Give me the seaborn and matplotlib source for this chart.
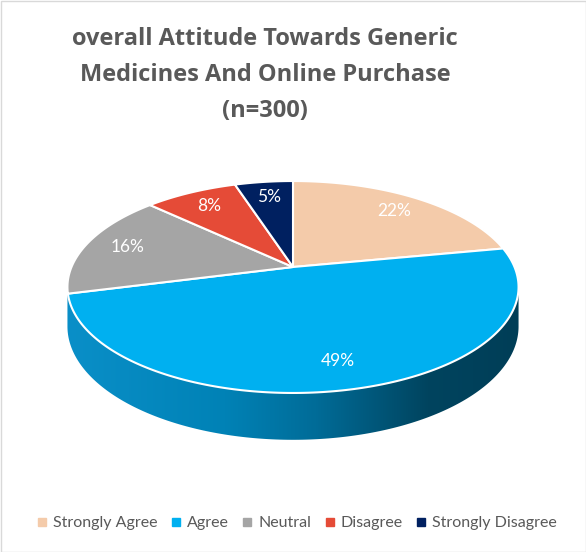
import numpy as np
import matplotlib.pyplot as plt
import matplotlib.colors as mcolors
from matplotlib.patches import Polygon, Rectangle
from matplotlib.lines import Line2D
import seaborn as sns

# Datos
categories = ["Strongly Agree", "Agree", "Neutral", "Disagree", "Strongly Disagree"]
shares = [22, 49, 16, 8, 5]
slice_colors = ["#F4CBAA", "#00B0F0", "#A5A5A5", "#E54B37", "#002060"]
title_lines = ["overall Attitude Towards Generic", "Medicines And Online Purchase", "(n=300)"]

sns.set_theme(style="white")
plt.rcParams['font.family'] = ['Lato', 'DejaVu Sans']
TEXT_GREY = "#595959"

W, H = 586, 552
fig = plt.figure(figsize=(W / 100, H / 100), dpi=100)
fig.patch.set_facecolor("white")
ax = fig.add_axes([0, 0, 1, 1])
ax.set_xlim(0, W)
ax.set_ylim(H, 0)
ax.axis("off")

# borde del área del gráfico
ax.add_patch(Rectangle((0.5, 0.5), W - 1, H - 1, fill=False, edgecolor="#D9D9D9", lw=1))

# geometría del pastel con la librería (ángulos y posiciones de etiquetas)
helper = plt.figure().add_subplot()
wedges, _, autotexts = helper.pie(shares, startangle=90, counterclock=False,
                                  autopct="%1.0f%%", pctdistance=0.8)

# proyección en perspectiva tipo Excel 3D
cx, cy = 293, 267
A, B, K, D = 102.2, 221.5, 0.1887, 38


def project(x, y, z=0.0):
    f = 1 + K * y
    return cx + B * x / f, cy - (A * y + D * z) / f


def arc(t1, t2, z=0.0, n=200):
    t = np.radians(np.linspace(t1, t2, n))
    return np.column_stack(project(np.cos(t), np.sin(t), z))


# lateral (cara frontal) con degradado
t_left = 180 + np.degrees(np.arcsin(K))
t_right = 360 - np.degrees(np.arcsin(K))
side_pts = np.vstack([arc(t_left, t_right, 0), arc(t_right, t_left, -1)])
side = Polygon(side_pts, closed=True, facecolor="none", edgecolor="none")
ax.add_patch(side)
side_cmap = mcolors.LinearSegmentedColormap.from_list(
    "side", [(0, "#0A8FC8"), (0.35, "#0082B6"), (0.55, "#006C98"),
             (0.8, "#00445F"), (1, "#003E57")])
grad = np.linspace(0, 1, 256).reshape(1, -1)
x0, x1 = side_pts[:, 0].min(), side_pts[:, 0].max()
y0, y1 = side_pts[:, 1].min(), side_pts[:, 1].max()
img = ax.imshow(grad, cmap=side_cmap, extent=[x0, x1, y1, y0], aspect="auto", zorder=1)
img.set_clip_path(side)
ax.set_xlim(0, W)
ax.set_ylim(H, 0)

# cara superior
for w, color in zip(wedges, slice_colors):
    pts = np.vstack([[project(0, 0)], arc(w.theta1, w.theta2)])
    ax.add_patch(Polygon(pts, closed=True, facecolor=color, edgecolor="white",
                         lw=1.5, joinstyle="round", zorder=2))

for t in autotexts:
    px, py = t.get_position()
    sx, sy = project(px, py)
    ax.text(sx, sy, t.get_text(), color="white", fontsize=12.5,
            ha="center", va="center", zorder=3)
plt.close(helper.figure)

# título
for i, line in enumerate(title_lines):
    ax.text(265, 39 + i * 36, line, fontsize=17, fontweight="bold",
            family=["Open Sans", "DejaVu Sans"],
            color=TEXT_GREY, ha="center", va="center")

# leyenda
handles = [Line2D([], [], marker="s", ls="", color=c, markersize=6) for c in slice_colors]
leg = fig.legend(handles, categories, loc="center", ncol=5,
                 bbox_to_anchor=(297 / W, 1 - 523 / H), frameon=False,
                 fontsize=11.5, handlelength=0.6, handletextpad=0.4,
                 columnspacing=0.85, labelcolor=TEXT_GREY)

fig.savefig("out.png", dpi=100, facecolor="white")
